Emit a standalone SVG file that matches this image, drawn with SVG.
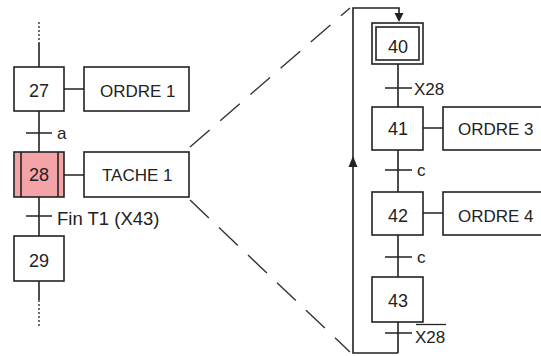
<svg xmlns="http://www.w3.org/2000/svg" width="541" height="356" viewBox="0 0 541 356">
<style>
.b{fill:#fff;stroke:#222;stroke-width:1.6}
.l{stroke:#222;stroke-width:1.6;fill:none}
.d{stroke:#333;stroke-width:1.4;fill:none;stroke-dasharray:2 2}
.dash{stroke:#333;stroke-width:1.4;fill:none;stroke-dasharray:26 14}
.n{font-family:"Liberation Sans",Arial,sans-serif;font-size:18px;fill:#222;text-anchor:middle}
.t{font-family:"Liberation Sans",Arial,sans-serif;font-size:17px;fill:#222}
.s{font-family:"Liberation Sans",Arial,sans-serif;font-size:17px;fill:#222}
</style>
<rect width="541" height="356" fill="#fff"/>
<g id="connectors">
<path class="d" d="M39 22V43"/>
<path class="l" d="M39 43V67M64 89H84M39 111V152M26 133H52M64 175H84M39 197V236M26 216H52M39 281V300"/>
<path class="d" d="M39 300V327"/>
<path class="dash" d="M190 147L350 8"/>
<path class="dash" d="M190 200L350 352"/>
<path class="l" d="M398 64V107M385 88H412M423 128H443M398 150V192M385 170H412M423 213H443M398 235V277M385 257H412M398 322V353M385 333H412"/>
<path class="l" d="M398 353H353V8H399V15"/>
<polygon points="394.5,13 403.5,13 399,22" fill="#222"/>
<polygon points="348.5,167 357.5,167 353,156" fill="#222"/>
</g>
<g id="s27"><rect class="b" x="14" y="67" width="50" height="44"/><text class="n" x="39" y="97">27</text></g>
<g id="o1"><rect class="b" x="84" y="67" width="105" height="44"/><text class="t" x="100" y="97">ORDRE 1</text></g>
<g id="ta"><text class="s" x="57" y="139">a</text></g>
<g id="s28"><rect x="14" y="152" width="50" height="45" fill="#f4a3a6" stroke="#222" stroke-width="1.6"/><path class="l" d="M21 152V197M58 152V197"/><text class="n" x="39" y="181">28</text></g>
<g id="t1"><rect class="b" x="84" y="152" width="105" height="45"/><text class="t" x="102" y="181">TACHE 1</text></g>
<g id="tfin"><text class="t" x="57" y="225" style="font-size:18.5px">Fin T1 (X43)</text></g>
<g id="s29"><rect class="b" x="14" y="236" width="50" height="45"/><text class="n" x="39" y="267">29</text></g>
<g id="s40"><rect class="b" x="372" y="23" width="51" height="41"/><rect class="l" x="376" y="27" width="43" height="33"/><text class="n" x="398" y="53">40</text></g>
<g id="tx28"><text class="s" x="414" y="95">X28</text></g>
<g id="s41"><rect class="b" x="372" y="107" width="51" height="43"/><text class="n" x="398" y="135">41</text></g>
<g id="o3"><rect class="b" x="443" y="107" width="110" height="43"/><text class="t" x="458" y="135">ORDRE 3</text></g>
<g id="tc1"><text class="s" x="417" y="176">c</text></g>
<g id="s42"><rect class="b" x="372" y="192" width="51" height="43"/><text class="n" x="398" y="222">42</text></g>
<g id="o4"><rect class="b" x="443" y="192" width="110" height="43"/><text class="t" x="458" y="222">ORDRE 4</text></g>
<g id="tc2"><text class="s" x="417" y="263">c</text></g>
<g id="s43"><rect class="b" x="372" y="277" width="51" height="45"/><text class="n" x="398" y="307">43</text></g>
<g id="tnx28"><text class="s" x="415" y="343">X28</text><path d="M416 324.5H446" stroke="#222" stroke-width="1.3"/></g>
</svg>
